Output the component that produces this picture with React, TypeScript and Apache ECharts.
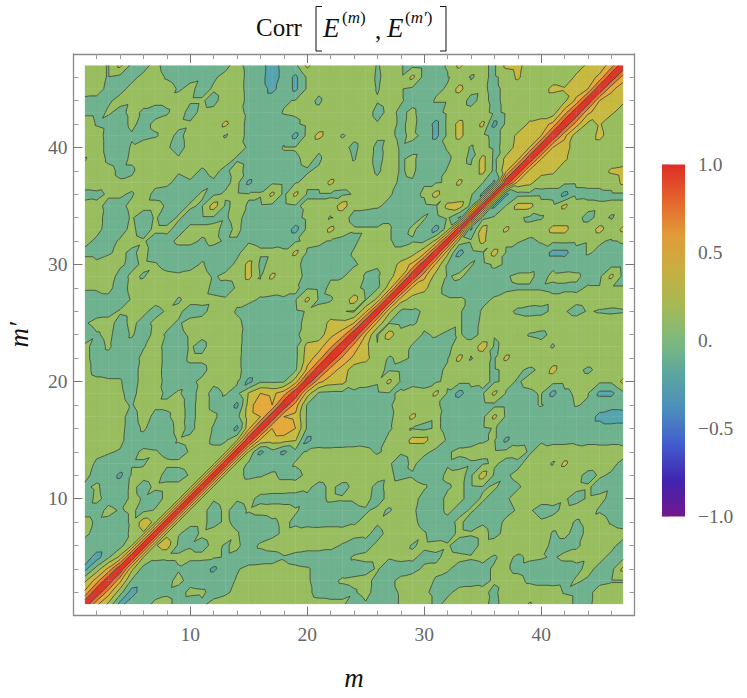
import React, { useEffect, useRef } from "react";
import * as echarts from "echarts";

// Correlation in hundredths; row k holds m' = k, m = k+1 ... 47 (matrix is symmetric, diagonal 1).
const corrRows: number[][] = [
/* 1*/[45,16,-27,-7,-6,3,4,-5,-7,-2,3,6,7,7,7,7,7,7,4,3,2,2,-6,-1,-6,-4,1,4,6,-3,3,6,6,3,-3,5,7,-1,6,7,7,-3,-2,4,7,7],
/* 2*/[50,8,-30,-7,-5,-2,-5,3,2,-4,-2,3,6,7,7,7,7,2,-3,-3,-3,-1,3,-4,-3,1,5,2,-3,-2,3,3,2,-2,5,6,6,6,5,-1,-3,-2,3,5,5],
/* 3*/[45,-3,-8,-7,-3,3,-4,-6,-6,-4,1,5,7,7,7,6,1,-3,-2,1,2,3,-3,-3,3,6,4,-1,-3,-4,-3,-2,1,3,3,-2,-4,-4,-3,1,-1,-2,-1,-1],
/* 4*/[25,-8,-7,-5,-1,-7,-8,-25,-6,-1,3,4,4,3,2,1,-3,-4,-3,-4,-3,1,-6,-5,-4,2,2,1,-3,-4,-2,1,1,-2,-4,-5,-5,-4,-2,2,-2,-6,25],
/* 5*/[20,3,2,2,3,3,2,-1,-3,-6,-6,-5,-1,-4,-6,-6,-5,-3,1,2,2,1,3,2,-3,-2,3,2,1,2,-1,3,-2,2,1,-1,2,2,1,2,-2,-6],
/* 6*/[18,30,-4,-1,-4,3,-1,2,-5,2,5,6,6,5,5,3,-1,-5,-3,2,6,5,-1,2,3,1,-4,-5,3,5,6,6,6,5,-3,-3,-1,2,4,2,-3],
/* 7*/[16,1,-5,2,5,5,1,-6,-7,-3,2,4,6,6,6,5,3,2,-3,3,6,6,1,-5,-4,2,1,3,-3,3,6,6,5,-1,2,-3,2,5,4,3],
/* 8*/[15,3,3,-4,2,-3,-6,-6,-2,2,-2,-4,-5,-4,-4,-1,2,1,5,6,3,-4,-6,-3,2,-4,-1,-4,2,5,5,1,3,3,-1,2,4,-1,-4],
/* 9*/[14,3,-4,2,-4,1,4,5,4,1,-3,-5,-5,-4,-2,-1,2,-1,4,2,-5,-4,2,-3,1,-3,-1,-3,1,1,-3,-2,2,4,3,-1,-4,-5],
/*10*/[15,1,4,1,3,-3,-4,-4,-4,-2,-3,2,1,1,3,-4,3,5,3,-3,-4,2,2,-3,1,-3,-1,3,1,3,3,1,-3,1,2,-2,-4],
/*11*/[15,5,6,6,5,5,5,4,2,-3,2,-3,2,4,-3,3,5,3,1,-3,-1,2,-3,-1,1,-3,-1,3,5,5,4,2,1,-3,-1,-4],
/*12*/[14,4,-3,-1,2,-3,-3,2,4,5,5,5,5,4,2,-3,-1,-4,-4,2,3,-3,30,-3,-1,2,5,6,6,5,3,-3,1,-1,-5],
/*13*/[15,-3,-6,-5,-5,1,4,6,6,6,6,5,4,1,-4,2,-4,-5,-1,-3,-1,-2,2,-4,-2,3,4,-1,25,5,5,4,2,-2],
/*14*/[18,-25,-7,-25,-5,2,3,3,3,3,2,-1,2,1,3,2,-2,-1,2,3,3,3,5,4,-1,3,5,5,3,5,4,5,3],
/*15*/[35,30,28,22,-27,-5,-6,-5,-4,-3,-4,2,4,27,27,5,-1,-4,-4,-1,1,-25,-4,-3,-1,-3,-3,-2,-3,-3,-3,-3],
/*16*/[40,58,40,-3,-6,-7,-7,-7,-7,-6,-1,3,-1,-4,2,-3,-6,-6,-3,1,-5,-6,-7,-7,-7,-7,-7,-7,-7,-7,-7],
/*17*/[40,35,-3,-7,-8,-8,-8,-7,-6,-2,4,25,5,2,-3,-6,-7,-5,25,-3,-6,-7,-7,-7,-7,-6,-6,-28,-40,-36],
/*18*/[50,-2,-6,-7,-7,-7,-7,-6,-1,3,5,5,1,-2,-6,-7,-6,-5,-5,-6,-3,1,-4,-5,1,-2,-6,-7,-7],
/*19*/[30,-3,-5,-5,-2,-2,-3,-1,1,4,3,25,-2,-28,-6,-2,25,-1,-3,-2,1,-27,-3,2,1,-25,-25,-5],
/*20*/[45,30,27,5,2,1,25,-2,-3,-4,-2,3,5,5,3,-2,3,-1,3,5,6,5,5,4,3,3,25],
/*21*/[50,32,8,5,3,-2,-4,-4,-4,-3,2,5,5,3,-2,3,2,-2,2,27,5,3,-2,3,6,6],
/*22*/[55,35,27,6,-1,2,-1,-5,-5,-1,26,-1,5,-2,25,6,7,7,7,7,7,6,7,7,7],
/*23*/[50,26,1,6,5,-1,-3,-4,-3,5,4,32,-3,5,7,7,4,-1,6,7,7,7,7,7],
/*24*/[40,-2,30,6,4,-1,1,-2,1,-3,2,1,5,6,-1,-3,3,7,7,7,7,7,7],
/*25*/[35,-1,-5,-1,2,4,4,1,-4,2,5,7,6,6,6,6,7,6,6,7,7,7],
/*26*/[25,-3,-2,1,3,3,1,-4,1,4,3,-2,-4,-3,2,1,-4,1,-1,-2,-1],
/*27*/[28,12,6,3,1,1,-1,-2,1,4,5,5,4,2,4,3,4,5,5,5],
/*28*/[35,27,3,-3,-5,-4,-4,-3,-2,-1,-1,-1,-2,-2,-2,1,1,1,1],
/*29*/[45,12,-1,2,-4,-6,-4,-1,2,2,-3,2,3,2,-3,-4,25,-5],
/*30*/[35,-2,-5,1,-5,2,-1,-6,-5,-3,-2,-6,-5,-5,-6,-7,-7],
/*31*/[25,-28,-6,-2,28,-1,-6,-6,-5,-27,-27,-6,1,-2,-4,-4],
/*32*/[12,3,26,3,1,1,-2,1,4,5,4,1,1,-1,1],
/*33*/[-22,30,2,25,5,5,5,27,27,5,5,28,5,25],
/*34*/[-6,3,3,3,-3,-1,5,5,3,-3,3,-1,5],
/*35*/[-24,1,27,27,5,4,25,5,3,2,3,3],
/*36*/[-24,-6,-5,-4,-4,-27,-4,-3,-3,-3,-3],
/*37*/[35,27,5,4,4,3,3,3,6,25],
/*38*/[35,30,26,3,5,6,6,24,28],
/*39*/[40,32,24,8,6,6,6,6],
/*40*/[40,30,8,6,7,7,7],
/*41*/[45,8,6,27,7,7],
/*42*/[50,15,22,6,7],
/*43*/[45,28,24,10],
/*44*/[40,30,24],
/*45*/[45,28],
/*46*/[50],
];
const gridSize = 47;
const contourLevels = [-0.8, -0.6, -0.4, -0.2, 0, 0.2, 0.4, 0.6, 0.8];
const bandColors = ["#5A2AA8", "#4A55C8", "#4C86C2", "#55A5AF", "#6EB28F", "#98BE60", "#C8B941", "#E4AA3C", "#E57832", "#DC3728"];
const barStopOffsets = [0, 0.1, 0.2, 0.3, 0.4, 0.5, 0.6, 0.7, 0.8, 0.9, 1];
const barStopColors = ["#DE2D26", "#E4642D", "#E19B37", "#C8AF41", "#A5B955", "#7DB97D", "#5AA5A0", "#4B8CBE", "#415ACD", "#4123AF", "#73198C"];
const majorTicks = [10, 20, 30, 40];
const minorTicks = [2, 4, 6, 8, 12, 14, 16, 18, 22, 24, 26, 28, 32, 34, 36, 38, 42, 44, 46];
const barLabels: Record<string, string> = { "1": "1.0", "0.5": "0.5", "0": "0.", "-0.5": "\u22120.5", "-1": "\u22121.0" };

const serif = "'Liberation Serif', 'Times New Roman', serif";
const grey = "#666666";

function val(mIdx: number, nIdx: number): number {
  if (mIdx === nIdx) return 1;
  const lo = Math.min(mIdx, nIdx), hi = Math.max(mIdx, nIdx);
  const row = corrRows[lo];
  const v = row ? row[hi - lo - 1] : undefined;
  return (v === undefined ? 5 : v) / 100;
}

type P = { x: number; y: number; v: number };

function clip(poly: P[], level: number, keepAbove: boolean): P[] {
  const out: P[] = [];
  const inside = (p: P) => (keepAbove ? p.v >= level : p.v < level);
  for (let i = 0; i < poly.length; i++) {
    const a = poly[i], b = poly[(i + 1) % poly.length];
    const ia = inside(a), ib = inside(b);
    if (ia) out.push(a);
    if (ia !== ib) {
      const t = (level - a.v) / (b.v - a.v);
      out.push({ x: a.x + (b.x - a.x) * t, y: a.y + (b.y - a.y) * t, v: level });
    }
  }
  return out;
}

const f = (n: number) => n.toFixed(2);

function contourPaths(coord: (c: number[]) => number[]) {
  const pts: P[][] = [];
  for (let i = 0; i < gridSize; i++) {
    pts[i] = [];
    for (let j = 0; j < gridSize; j++) {
      const c = coord([i + 1, j + 1]);
      pts[i][j] = { x: c[0], y: c[1], v: val(i, j) };
    }
  }
  const tris: P[][] = [];
  for (let i = 0; i < gridSize - 1; i++) {
    for (let j = 0; j < gridSize - 1; j++) {
      tris.push([pts[i][j], pts[i + 1][j], pts[i + 1][j + 1]]);
      tris.push([pts[i][j], pts[i + 1][j + 1], pts[i][j + 1]]);
    }
  }
  const bounds = [-2, ...contourLevels, 2];
  const bandD: string[] = bandColors.map(() => "");
  let lineD = "";
  for (const t of tris) {
    for (let b = 0; b < bandColors.length; b++) {
      let poly = clip(t, bounds[b], true);
      if (poly.length) poly = clip(poly, bounds[b + 1], false);
      if (poly.length >= 3) {
        bandD[b] += "M" + poly.map((p) => f(p.x) + " " + f(p.y)).join("L") + "Z";
      }
    }
    for (const L of contourLevels) {
      const cross: number[][] = [];
      for (let k = 0; k < 3; k++) {
        const a = t[k], c = t[(k + 1) % 3];
        if (a.v >= L !== c.v >= L) {
          const s = (L - a.v) / (c.v - a.v);
          cross.push([a.x + (c.x - a.x) * s, a.y + (c.y - a.y) * s]);
        }
      }
      if (cross.length === 2) {
        lineD += "M" + f(cross[0][0]) + " " + f(cross[0][1]) + "L" + f(cross[1][0]) + " " + f(cross[1][1]);
      }
    }
  }
  let seamD = "";
  for (let i = 0; i < gridSize; i += 2) {
    const a = pts[i][0], b = pts[i][gridSize - 1], c = pts[0][i], d = pts[gridSize - 1][i];
    seamD += `M${f(a.x)} ${f(a.y)}L${f(b.x)} ${f(b.y)}M${f(c.x)} ${f(c.y)}L${f(d.x)} ${f(d.y)}`;
  }
  return { bandD, lineD, seamD };
}

const frame = "#8a8a8a";
const range = { min: 0.02, max: 47.98 };

function axis(position: string, major: boolean, withLabel: boolean, extra: any = {}) {
  return {
    type: "value",
    position,
    ...range,
    splitLine: { show: false },
    axisLine: { show: major, onZero: false, lineStyle: { color: frame, width: 1.3 } },
    axisTick: {
      show: true,
      inside: true,
      length: major ? 9 : 5,
      customValues: major ? majorTicks : minorTicks,
      lineStyle: { color: major ? "#777777" : "#9a9a9a", width: 1 },
    },
    axisLabel: withLabel
      ? { show: true, customValues: majorTicks, color: grey, fontFamily: serif, fontSize: 19.5, margin: 9 }
      : { show: false },
    ...extra,
  };
}

const nameStyle = { fontFamily: serif, fontStyle: "italic", fontSize: 27, color: "#111111" };

function makeOption() {
  const seriesData: number[][] = [];
  for (let i = 0; i < gridSize; i++) for (let j = 0; j < gridSize; j++) seriesData.push([i + 1, j + 1, val(i, j)]);
  const sub = { fontFamily: serif, fontSize: 17, fill: "#111111", fontStyle: "normal" };
  const subI = { ...sub, fontStyle: "italic" };
  const title = (text: string, x: number, y: number, size: number, italic = false, rich?: any) => ({
    type: "text",
    x,
    y,
    silent: true,
    style: { text, fontFamily: serif, fontSize: size, fontStyle: italic ? "italic" : "normal", fill: "#111111", textAlign: "left", textVerticalAlign: "middle", rich },
  });
  const bracket = (pts: number[][]) => ({ type: "polyline", silent: true, shape: { points: pts }, style: { stroke: "#111111", lineWidth: 1, fill: "none" } });
  return {
    animation: false,
    backgroundColor: "#ffffff",
    grid: [
      { left: 73.5, top: 54, width: 561, height: 561.5, outerBoundsMode: "none" },
      { left: 662, top: 164.5, width: 23, height: 352, outerBoundsMode: "none" },
    ],
    xAxis: [
      axis("bottom", true, true, { name: "m", nameLocation: "middle", nameGap: 49, nameTextStyle: nameStyle }),
      axis("bottom", false, false),
      axis("top", true, false),
      axis("top", false, false),
      { type: "value", gridIndex: 1, min: 0, max: 1, show: false },
    ],
    yAxis: [
      axis("left", true, true, { name: "m\u2032", nameLocation: "middle", nameGap: 41, nameRotate: 90, nameTextStyle: nameStyle, axisLabel: { show: true, customValues: majorTicks, color: grey, fontFamily: serif, fontSize: 19.5, margin: 6 } }),
      axis("left", false, false),
      axis("right", true, false),
      axis("right", false, false),
      {
        type: "value",
        gridIndex: 1,
        position: "right",
        min: -1,
        max: 1,
        interval: 0.5,
        splitLine: { show: false },
        axisLine: { show: false },
        axisTick: { show: true, length: 7, lineStyle: { color: "#dddddd" } },
        minorTick: { show: true, splitNumber: 5, length: 4, lineStyle: { color: "#e6e6e6" } },
        axisLabel: { color: grey, fontFamily: serif, fontSize: 19.5, margin: 13, formatter: (v: number) => barLabels[String(v)] ?? "" },
      },
    ],
    series: [
      {
        type: "custom",
        xAxisIndex: 0,
        yAxisIndex: 0,
        clip: false,
        silent: true,
        encode: { x: 0, y: 1 },
        data: seriesData,
        renderItem: (params: any, api: any) => {
          if (params.dataIndex !== 0) return null;
          const { bandD, lineD, seamD } = contourPaths((c) => api.coord(c));
          const children: any[] = [];
          bandD.forEach((d, i) => {
            if (d) children.push({ type: "path", shape: { pathData: d }, style: { fill: bandColors[i], stroke: bandColors[i], lineWidth: 0.2 } });
          });
          children.push({ type: "path", shape: { pathData: seamD }, style: { fill: "none", stroke: "rgba(255,255,255,0.10)", lineWidth: 1 } });
          children.push({ type: "path", shape: { pathData: lineD }, style: { fill: "none", stroke: "rgba(50,60,45,0.78)", lineWidth: 1 } });
          return { type: "group", children };
        },
      },
      {
        type: "custom",
        xAxisIndex: 4,
        yAxisIndex: 4,
        silent: true,
        encode: { x: 0, y: 1 },
        data: [[0, -1, 1, 1]],
        renderItem: (_p: any, api: any) => {
          const a = api.coord([api.value(0), api.value(3)]);
          const b = api.coord([api.value(2), api.value(1)]);
          return {
            type: "rect",
            shape: { x: a[0], y: a[1], width: b[0] - a[0], height: b[1] - a[1] },
            style: {
              fill: new echarts.graphic.LinearGradient(0, 0, 0, 1, barStopOffsets.map((offset, i) => ({ offset, color: barStopColors[i] }))),
            },
          };
        },
      },
    ],
    graphic: [
      title("Corr", 256, 27, 25),
      bracket([[322, 6.5], [316, 6.5], [316, 51], [322, 51]]),
      title("E", 323, 28, 27, true),
      title("{a|(}{b|m}{a|)}", 342, 17, 18, false, { a: sub, b: subI }),
      title(",", 375, 30, 25),
      title("E", 387, 28, 27, true),
      title("{a|(}{b|m\u2032}{a|)}", 405, 17, 18, false, { a: sub, b: subI }),
      bracket([[440, 6.5], [446, 6.5], [446, 51], [440, 51]]),
    ],
  };
}

export default function App() {
  const ref = useRef<HTMLDivElement>(null);
  useEffect(() => {
    document.body.style.margin = "0";
    const chart = echarts.init(ref.current!, undefined, { renderer: "svg" });
    chart.setOption(makeOption() as any);
    return () => chart.dispose();
  }, []);
  return <div ref={ref} style={{ width: 747, height: 698 }} />;
}
